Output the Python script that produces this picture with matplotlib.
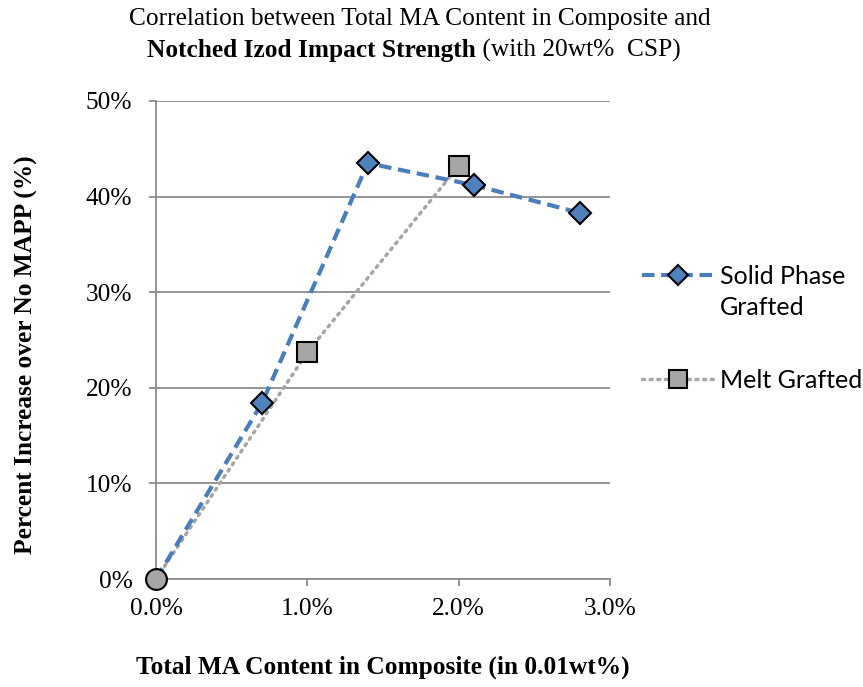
import matplotlib
matplotlib.use("Agg")
import matplotlib.pyplot as plt
from matplotlib.lines import Line2D
from matplotlib.ticker import FuncFormatter

# MA content (%) and percent increase over no-MAPP (%)
solid_x = [0.0, 0.7, 1.4, 2.1, 2.8]
solid_y = [0.0, 18.4, 43.5, 41.2, 38.3]
melt_x = [0.0, 1.0, 2.0]
melt_y = [0.0, 23.7, 43.2]
base_x = [0.0]
base_y = [0.0]

x_ticks = [0.0, 1.0, 2.0, 3.0]
y_ticks = [0, 10, 20, 30, 40, 50]

SERIF = "Liberation Serif"
SANS = "Lato"
GRID = "#8c8c8c"
FS = 18.3

fig = plt.figure(figsize=(8.63, 6.87), dpi=100)
ax = fig.add_axes([0.1808, 0.1572, 0.526, 0.6958])

ax.plot(solid_x, solid_y, color="#4a7ebb", lw=3, ls=(0, (3, 1.6)), zorder=3)
ax.plot(solid_x[1:], solid_y[1:], ls="none", marker="D", ms=11,
        mfc="#4f81bd", mec="black", mew=1.5, zorder=5)
ax.plot(melt_x, melt_y, color="#a6a6a6", lw=2.5, ls=(0, (0.6, 1.6)),
        dash_capstyle="round", zorder=2)
ax.plot(melt_x[1:], melt_y[1:], ls="none", marker="s", ms=15,
        mfc="#a6a6a6", mec="black", mew=1.5, zorder=4)
ax.plot(base_x, base_y, ls="none", marker="o", ms=15,
        mfc="#a6a6a6", mec="black", mew=1.5, zorder=6, clip_on=False)

# legend handles; the solid phase label wraps, with its marker on the first line
h1 = Line2D([], [], color="#4a7ebb", lw=3, ls=(0, (3, 1.6)), marker="D",
            ms=10, mfc="#4f81bd", mec="black", mew=1.5)
h_blank = Line2D([], [], ls="none")
h2 = Line2D([], [], color="#a6a6a6", lw=2.5, ls=(0, (0.6, 1.6)),
            dash_capstyle="round", marker="s", ms=13, mfc="#a6a6a6",
            mec="black", mew=1.5)
leg_kw = dict(loc="upper left", frameon=False,
              prop={"family": SANS, "size": 18}, handlelength=2.9,
              handletextpad=0.2)
fig.legend([h1, h_blank], ["Solid Phase", "Grafted"],
           bbox_to_anchor=(0.718, 0.647), labelspacing=0.3, **leg_kw)
fig.legend([h2], ["Melt Grafted"], bbox_to_anchor=(0.718, 0.496), **leg_kw)

ax.set_xlim(0, 3.0)
ax.set_ylim(0, 50)
ax.set_xticks(x_ticks)
ax.set_yticks(y_ticks)
ax.xaxis.set_major_formatter(FuncFormatter(lambda v, p: f"{v:.1f}%"))
ax.yaxis.set_major_formatter(FuncFormatter(lambda v, p: f"{v:.0f}%"))
ax.yaxis.grid(True, color=GRID, lw=1.3)
ax.set_axisbelow(True)
for s in ["top", "right"]:
    ax.spines[s].set_visible(False)
for s in ["left", "bottom"]:
    ax.spines[s].set_color(GRID)
    ax.spines[s].set_linewidth(1.3)
ax.tick_params(colors=GRID, length=5, width=1.3, labelcolor="black",
               labelsize=FS)
ax.tick_params(axis="x", pad=9)
ax.tick_params(axis="y", pad=12)
for lab in ax.get_xticklabels() + ax.get_yticklabels():
    lab.set_fontfamily(SERIF)

fig.text(0.031, 0.483, "Percent Increase over No MAPP (%)", rotation=90,
         ha="center", va="center", family=SERIF, weight="bold", fontsize=FS)
fig.text(0.444, 0.028, "Total MA Content in Composite (in 0.01wt%)",
         ha="center", va="center", family=SERIF, weight="bold", fontsize=FS)

# two-line title, second line mixes bold and regular
fig.text(0.486, 0.973, "Correlation between Total MA Content in Composite and",
         ha="center", va="center", family=SERIF, fontsize=FS)
fig.canvas.draw()
r = fig.canvas.get_renderer()
t_bold = fig.text(0, 0.927, "Notched Izod Impact Strength", ha="left",
                  va="center", family=SERIF, weight="bold", fontsize=FS)
t_reg = fig.text(0, 0.927, " (with 20wt%  CSP)", ha="left", va="center",
                 family=SERIF, fontsize=FS)
wb = t_bold.get_window_extent(r).width / fig.bbox.width
wr = t_reg.get_window_extent(r).width / fig.bbox.width
x0 = 0.480 - (wb + wr) / 2
t_bold.set_x(x0)
t_reg.set_x(x0 + wb)

fig.savefig("out.png", dpi=100)
